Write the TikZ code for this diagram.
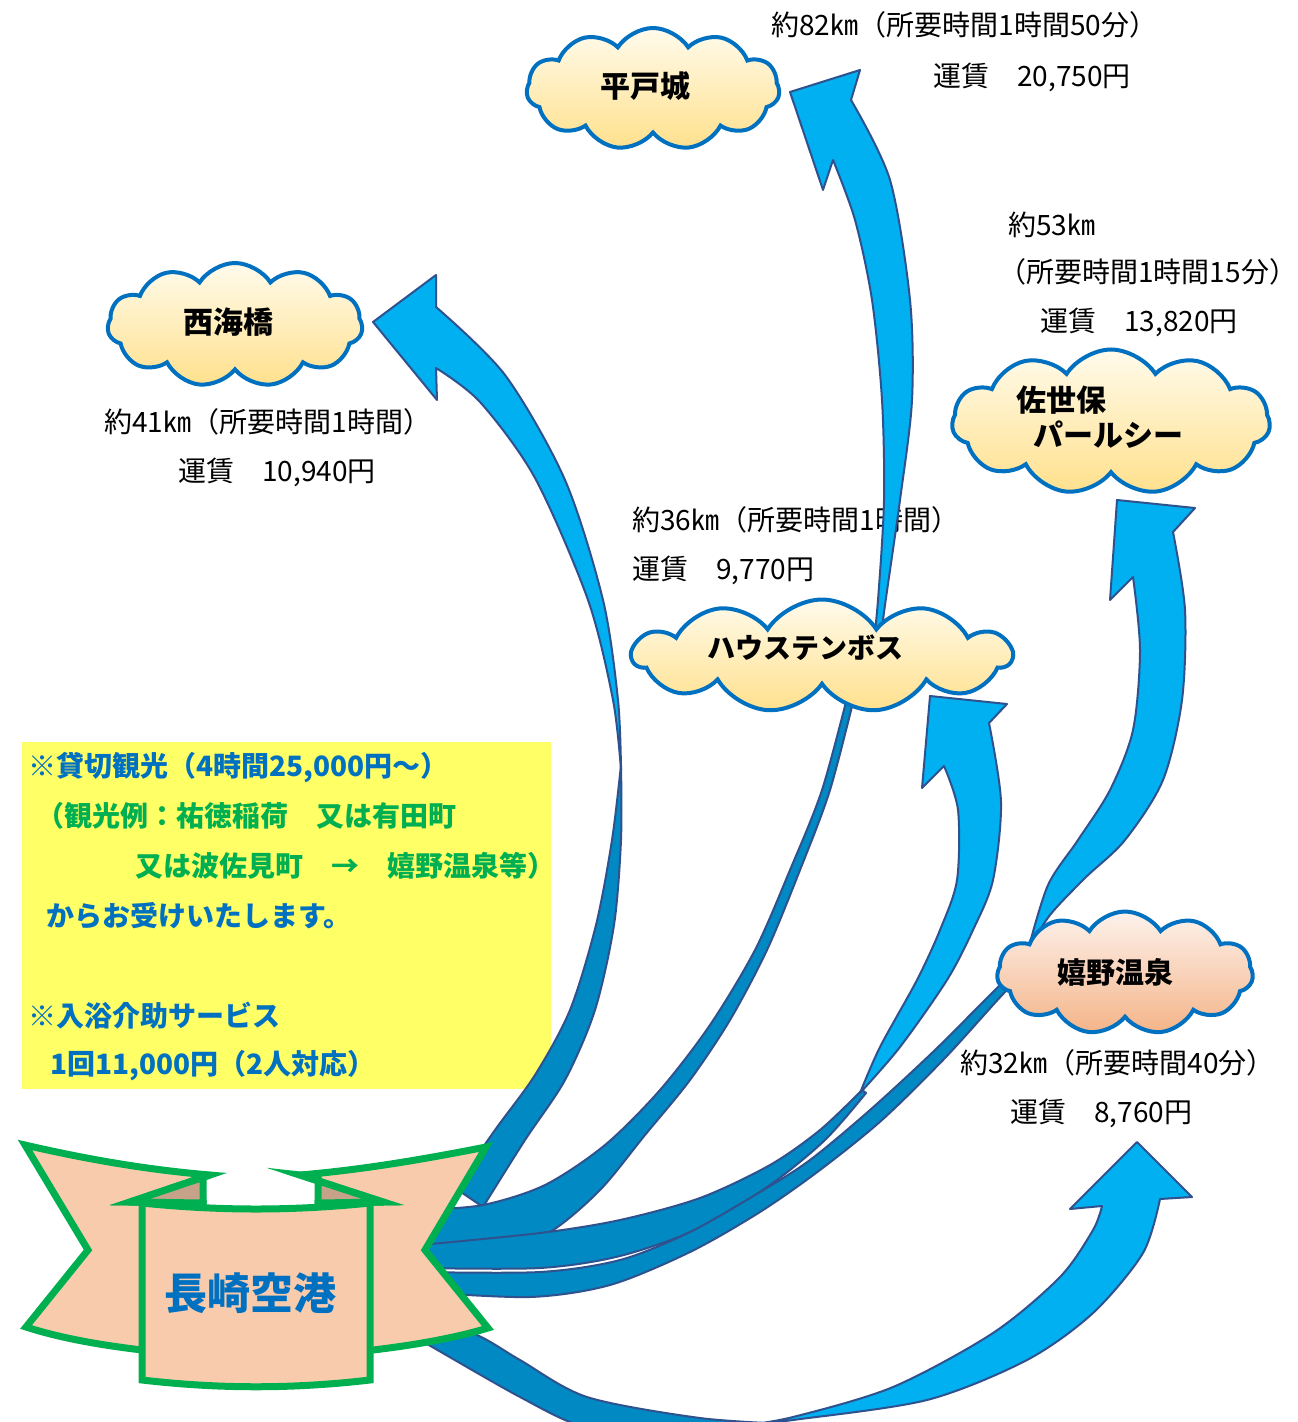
\documentclass[tikz,border=0pt]{standalone}
\usepackage{fontspec}
\setmainfont{Noto Sans CJK JP}
\usepackage{tikz}
\usetikzlibrary{shapes.symbols}

\definecolor{bandlight}{RGB}{0,176,240}
\definecolor{banddark}{RGB}{0,137,194}
\definecolor{bandline}{RGB}{47,82,143}
\definecolor{cloudline}{RGB}{0,112,192}
\definecolor{cloudtop}{RGB}{255,251,236}
\definecolor{cloudbot}{RGB}{255,224,140}
\definecolor{onsentop}{RGB}{253,242,236}
\definecolor{onsenbot}{RGB}{244,180,136}
\definecolor{memobg}{RGB}{255,255,102}
\definecolor{memoblue}{RGB}{0,112,192}
\definecolor{memogreen}{RGB}{0,176,80}
\definecolor{ribbongreen}{RGB}{0,176,80}
\definecolor{ribbonfill}{RGB}{248,203,173}
\definecolor{ribbonfold}{RGB}{198,162,136}

\begin{document}
\begin{tikzpicture}[x=0.5pt, y=-0.5pt,
  dist/.style={anchor=west, inner sep=0pt, font=\fontsize{14pt}{16pt}\selectfont},
  memo/.style={anchor=west, inner sep=0pt, font=\fontsize{14pt}{16pt}\selectfont\bfseries},
  spot/.style={cloud, cloud puffs=11, cloud puff arc=115, cloud ignores aspect, draw=cloudline, line width=2pt, top color=cloudtop, bottom color=cloudbot, inner sep=0pt},
  spotname/.style={inner sep=0pt, font=\fontsize{15pt}{17pt}\selectfont\bfseries},
  darkband/.style={fill=banddark, draw=bandline, line width=1pt, line join=round},
  lightband/.style={fill=bandlight, draw=bandline, line width=1pt, line join=round},
  ribbon/.style={fill=ribbonfill, draw=ribbongreen, line width=3.5pt, line join=miter}]

\useasboundingbox (0,0) rectangle (1297,1422);
\clip (0,0) rectangle (1297,1422);
\fill[white] (0,0) rectangle (1297,1422);

%//memo box
\fill[memobg] (22,742) rectangle (551,1089);
\foreach \n/\x/\y/\c/\t in {memoa/28/768/memoblue/{※貸切観光（4時間25,000円～）},
  memob/36/816/memogreen/{（観光例：祐徳稲荷　又は有田町},
  memoc/135/866/memogreen/{又は波佐見町　→　嬉野温泉等）},
  memod/46/916/memoblue/{からお受けいたします。},
  memoe/28/1016/memoblue/{※入浴介助サービス},
  memof/50/1066/memoblue/{1回11,000円（2人対応）}}
\node[memo, text=\c] (\n) at (\x,\y) {\t};

%//distance and fare
\foreach \n/\x/\y/\t in {hiradokm/771/25/{約82㎞（所要時間1時間50分）},
  hiradoyen/933/77/{運賃　20,750円},
  sasebokm/1008/225/{約53㎞},
  sasebotime/998/272/{（所要時間1時間15分）},
  saseboyen/1040/322/{運賃　13,820円},
  saikaikm/104/422/{約41㎞（所要時間1時間）},
  saikaiyen/178/472/{運賃　10,940円},
  htbkm/632/520/{約36㎞（所要時間1時間）},
  htbyen/632/570/{運賃　9,770円},
  onsenkm/960/1063/{約32㎞（所要時間40分）},
  onsenyen/1010/1113/{運賃　8,760円}}
\node[dist] (\n) at (\x,\y) {\t};

%//dark backs of the arrows
\filldraw[darkband] plot[smooth] coordinates {(621,765) (621,840) (614,925) (595,1010) (565,1080) (525,1140) (483,1207)} -- plot[smooth] coordinates {(455,1188) (495,1130) (535,1075) (570,1010) (596,925) (612,840) (621,765)} -- cycle;
\filldraw[darkband] plot[smooth] coordinates {(849,690) (822,790) (790,870) (755,950) (710,1025) (660,1090) (605,1145) (545,1185) (483,1205) (420,1210)} -- plot[smooth] coordinates {(420,1262) (490,1256) (550,1232) (600,1190) (645,1135) (690,1080) (730,1020) (767,950) (800,870) (830,790) (856,690)} -- cycle;
\filldraw[darkband] plot[smooth] coordinates {(862,1090) (820,1130) (770,1165) (700,1198) (620,1220) (540,1233) (420,1245)} -- plot[smooth] coordinates {(420,1268) (540,1268) (620,1256) (700,1228) (770,1185) (825,1140) (866,1093)} -- cycle;
\filldraw[darkband] plot[smooth] coordinates {(1020,968) (1000,985) (935,1050) (870,1110) (810,1160) (760,1192) (690,1232) (620,1260) (540,1272) (420,1272)} -- plot[smooth] coordinates {(420,1292) (530,1297) (610,1285) (690,1252) (760,1212) (820,1170) (882,1120) (945,1058) (1005,992) (1026,975)} -- cycle;
\filldraw[darkband] plot[smooth] coordinates {(400,1305) (477,1335) (520,1360) (587,1397) (700,1418) (790,1424)} -- plot[smooth] coordinates {(790,1470) (700,1450) (587,1428) (520,1397) (420,1340) (400,1330)} -- cycle;

%//light fronts with heads
\filldraw[lightband] plot[smooth] coordinates {(621,770) (618,700) (603,600) (565,480) (505,375) (436,307)} -- (436,275) -- (373,322) -- (437,400) -- plot[smooth] coordinates {(436,368) (480,402) (535,478) (588,600) (613,700) (621,770)} -- cycle;
\filldraw[lightband] plot[smooth] coordinates {(878,660) (885,605) (900,500) (912,400) (910,300) (890,180) (851,100)} -- (860,70) -- (790,92) -- (823,190) -- plot[smooth] coordinates {(833,160) (855,220) (872,300) (882,400) (884,500) (878,600) (872,660)} -- cycle;
\filldraw[lightband] plot[smooth] coordinates {(860,1093) (900,1047) (947,980) (973,930) (993,880) (1001,802) (989,723)} -- (1007,704) -- (930,696) -- (922,788) -- plot[smooth] coordinates {(944,766) (958,810) (957,880) (940,930) (917,980) (880,1047) (860,1093)} -- cycle;
\filldraw[lightband] plot[smooth] coordinates {(1028,950) (1050,915) (1085,878) (1125,840) (1163,780) (1182,700) (1185,610) (1173,532)} -- (1195,508) -- (1117,500) -- (1110,600) -- plot[smooth] coordinates {(1133,577) (1140,650) (1133,730) (1110,790) (1078,840) (1048,885) (1028,950)} -- cycle;
\filldraw[lightband] plot[smooth] coordinates {(740,1426) (793,1420) (927,1400) (1027,1360) (1093,1313) (1143,1253) (1160,1199)} -- (1192,1197) -- (1137,1142) -- (1070,1209) -- plot[smooth] coordinates {(1102,1206) (1093,1230) (1060,1277) (993,1333) (893,1387) (793,1417) (740,1426)} -- cycle;

%//places
\node[spot, minimum width=126.5pt, minimum height=61pt] (hirado) at (653,89) {};
\node[spot, minimum width=127.5pt, minimum height=62pt] (saikai) at (235,325) {};
\node[spot, minimum width=159pt, minimum height=72.5pt] (sasebo) at (1111,422) {};
\node[spot, minimum width=189.5pt, minimum height=56.5pt] (htb) at (822,656) {};
\node[spot, minimum width=128pt, minimum height=61.5pt, top color=onsentop, bottom color=onsenbot] (ureshino) at (1125,973) {};

\node[spotname] (hiradoname) at (645,86) {平戸城};
\node[spotname] (saikainame) at (228,322) {西海橋};
\node[spotname, anchor=west] (saseboname) at (1016,400) {佐世保};
\node[spotname, anchor=west] (pearlname) at (1033,435) {パールシー};
\node[spotname, font=\fontsize{14pt}{16pt}\selectfont\bfseries] (htbname) at (805,648) {ハウステンボス};
\node[spotname, font=\fontsize{14.5pt}{16pt}\selectfont\bfseries] (ureshinoname) at (1115,972) {嬉野温泉};

%//airport banner
\filldraw[ribbon] (25,1145) .. controls (90,1160) and (150,1170) .. (210,1175) -- (130,1202) -- (203,1203) -- (203,1345) -- (142,1350) .. controls (100,1345) and (60,1338) .. (26,1327) -- (88,1250) -- cycle;
\filldraw[ribbon, fill=ribbonfold] (210,1175) -- (130,1202) -- (203,1203) -- (203,1177) -- cycle;
\filldraw[ribbon] (486,1147) .. controls (420,1160) and (360,1170) .. (300,1175) -- (383,1202) -- (318,1203) -- (318,1345) -- (373,1350) .. controls (415,1345) and (455,1338) .. (488,1328) -- (425,1250) -- cycle;
\filldraw[ribbon, fill=ribbonfold] (300,1175) -- (383,1202) -- (318,1203) -- (318,1177) -- cycle;
\filldraw[ribbon] (142,1203) .. controls (220,1211) and (292,1211) .. (370,1203) -- (370,1380) .. controls (292,1389) and (220,1389) .. (142,1380) -- cycle;
\node[inner sep=0pt, font=\fontsize{21.5pt}{24pt}\selectfont\bfseries, text=memoblue] (airport) at (250,1293) {長崎空港};

\end{tikzpicture}
\end{document}
